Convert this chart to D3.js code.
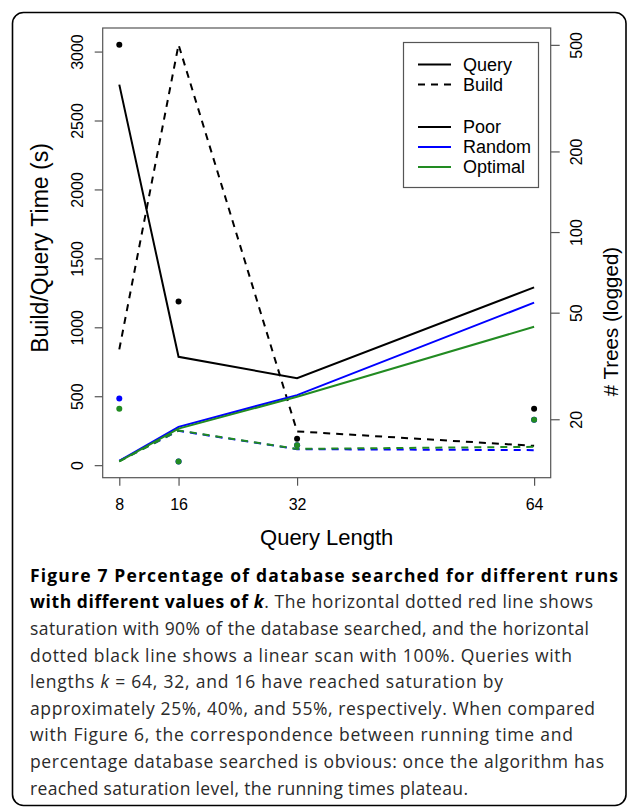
<!DOCTYPE html>
<html><head><meta charset="utf-8">
<script src="https://cdn.jsdelivr.net/npm/d3@7"></script>
<style>body{margin:0;background:#fff}svg{display:block}</style>
</head><body><svg id="c" width="637" height="808"></svg>
<script>
// ---- data ----
const queryLengths = [8, 16, 32, 64];
const xTicks = [8, 16, 32, 64];
const leftTicks = [0, 500, 1000, 1500, 2000, 2500, 3000];
const rightTicks = [20, 50, 100, 200, 500];

const poorQuery    = [2760, 786, 630, 1290];
const randomQuery  = [31, 278, 508, 1179];
const optimalQuery = [28, 265, 496, 1004];
const poorBuild    = [840, 3050, 245, 140];
const randomBuild  = [31, 249, 116, 109];
const optimalBuild = [28, 252, 118, 133];

const poorTrees    = [500, 55, 16.9, 21.9];
const randomTrees  = [23.9, 13.9, 16.0, 19.9];
const optimalTrees = [21.9, 13.9, 16.0, 19.9];

const strategies = ["Poor", "Random", "Optimal"];
const colors = {Poor: "#000000", Random: "#0000ff", Optimal: "#228b22"};
const legendTypes = ["Query", "Build"];

const captionLines = [
  [{t: "Figure 7 Percentage of database searched for different runs", b: 1}],
  [{t: "with different values of ", b: 1}, {t: "k", b: 1, i: 1}, {t: ". The horizontal dotted red line shows"}],
  [{t: "saturation with 90% of the database searched, and the horizontal"}],
  [{t: "dotted black line shows a linear scan with 100%. Queries with"}],
  [{t: "lengths "}, {t: "k", i: 1}, {t: " = 64, 32, and 16 have reached saturation by"}],
  [{t: "approximately 25%, 40%, and 55%, respectively. When compared"}],
  [{t: "with Figure 6, the correspondence between running time and"}],
  [{t: "percentage database searched is obvious: once the algorithm has"}],
  [{t: "reached saturation level, the running times plateau."}]
];
const captionLineEnds = [618, 593, 589, 572, 503, 595, 573, 604, 468];

// ---- layout ----
const svg = d3.select("#c");
const L = 102.7, R = 550.7, T = 28, B = 477.7;
const x = d3.scaleLinear().domain([5.76, 66.24]).range([L, R]);
const yL = d3.scaleLinear().domain([-91, 3171]).range([B, T]);
const yR = d3.scaleLog().domain([12.1, 578]).range([B, T]);
const chartFont = "'Liberation Sans', Arial, sans-serif";

// outer rounded frame
svg.append("rect").attr("x", 12.5).attr("y", 12.5).attr("width", 613.5).attr("height", 793)
  .attr("rx", 11).attr("fill", "none").attr("stroke", "#000").attr("stroke-width", 1.6);

// plot box
svg.append("rect").attr("x", L).attr("y", T).attr("width", R - L).attr("height", B - T)
  .attr("fill", "none").attr("stroke", "#555").attr("stroke-width", 1.2);

// axes
function styleAxis(g) {
  g.select(".domain").remove();
  g.selectAll(".tick line").attr("stroke", "#555").attr("stroke-width", 1.2);
  g.selectAll(".tick text").attr("fill", "#000").attr("font-family", chartFont).attr("font-size", 16);
}
const gx = svg.append("g").attr("transform", `translate(0,${B})`)
  .call(d3.axisBottom(x).tickValues(xTicks).tickSize(8).tickFormat(d3.format("d")));
styleAxis(gx);
gx.selectAll(".tick text").attr("y", 32).attr("dy", 0);

const gl = svg.append("g").attr("transform", `translate(${L},0)`)
  .call(d3.axisLeft(yL).tickValues(leftTicks).tickSize(8).tickFormat(d3.format("d")));
styleAxis(gl);
gl.selectAll(".tick text").attr("transform", "rotate(-90)").attr("x", 0).attr("y", -19.5)
  .attr("dy", 0).attr("text-anchor", "middle");

const gr = svg.append("g").attr("transform", `translate(${R},0)`)
  .call(d3.axisRight(yR).tickValues(rightTicks).tickSize(9).tickFormat(d3.format("d")));
styleAxis(gr);
gr.selectAll(".tick text").attr("transform", "rotate(-90)").attr("x", 0).attr("y", 31)
  .attr("dy", 0).attr("text-anchor", "middle");

// axis titles
svg.append("text").attr("x", (L + R) / 2).attr("y", 545).attr("text-anchor", "middle")
  .attr("font-family", chartFont).attr("font-size", 22).text("Query Length");
svg.append("text").attr("transform", "translate(48.3,248) rotate(-90)").attr("text-anchor", "middle")
  .attr("font-family", chartFont).attr("font-size", 23).text("Build/Query Time (s)");
svg.append("text").attr("transform", "translate(618,321.5) rotate(-90)").attr("text-anchor", "middle")
  .attr("font-family", chartFont).attr("font-size", 20.5).text("# Trees (logged)");

// lines
const series = [
  {s: "Poor", type: "Query", v: poorQuery},
  {s: "Poor", type: "Build", v: poorBuild},
  {s: "Random", type: "Query", v: randomQuery},
  {s: "Random", type: "Build", v: randomBuild},
  {s: "Optimal", type: "Query", v: optimalQuery},
  {s: "Optimal", type: "Build", v: optimalBuild}
];
const line = d3.line().x((d, i) => x(queryLengths[i])).y(d => yL(d));
svg.append("g").selectAll("path").data(series).join("path")
  .attr("d", d => line(d.v)).attr("fill", "none")
  .attr("stroke", d => colors[d.s]).attr("stroke-width", 2)
  .attr("stroke-dasharray", d => d.type === "Build" ? "7,6" : null);

// points (trees, log right axis)
const pts = [
  {s: "Poor", v: poorTrees}, {s: "Random", v: randomTrees}, {s: "Optimal", v: optimalTrees}
];
pts.forEach(p => {
  svg.append("g").selectAll("circle").data(p.v).join("circle")
    .attr("cx", (d, i) => x(queryLengths[i])).attr("cy", d => yR(d)).attr("r", 3)
    .attr("fill", colors[p.s]);
});

// legend
const lg = svg.append("g");
lg.append("rect").attr("x", 403.5).attr("y", 42.5).attr("width", 135).attr("height", 145)
  .attr("fill", "#fff").attr("stroke", "#555").attr("stroke-width", 1.2);
const legendItems = [
  {label: legendTypes[0], color: "#000", dash: null, y: 64.5},
  {label: legendTypes[1], color: "#000", dash: "7,6", y: 84.5},
  {label: strategies[0], color: colors.Poor, dash: null, y: 127},
  {label: strategies[1], color: colors.Random, dash: null, y: 147},
  {label: strategies[2], color: colors.Optimal, dash: null, y: 167}
];
legendItems.forEach(it => {
  lg.append("line").attr("x1", 418).attr("x2", 451).attr("y1", it.y).attr("y2", it.y)
    .attr("stroke", it.color).attr("stroke-width", 2).attr("stroke-dasharray", it.dash);
  lg.append("text").attr("x", 463).attr("y", it.y + 6.3).attr("font-family", chartFont)
    .attr("font-size", 18).text(it.label);
});

// caption
const cap = svg.append("g").attr("font-family", "'Open Sans', sans-serif").attr("font-size", 17.5);
captionLines.forEach((ln, i) => {
  const t = cap.append("text").attr("x", 30).attr("y", 581.7 + i * 26.6);
  ln.forEach(seg => {
    t.append("tspan").text(seg.t)
      .attr("font-weight", seg.b ? 700 : 400)
      .attr("font-style", seg.i ? "italic" : "normal")
      .attr("fill", seg.b ? "#000" : "#2a2a2a");
  });
  const nChars = ln.reduce((a, s) => a + s.t.length, 0);
  const len = t.node().getComputedTextLength();
  const target = captionLineEnds[i] - 30;
  const ls = (target - len) / (nChars - 1);
  t.attr("letter-spacing", ls.toFixed(3));
});
</script>
</body></html>
